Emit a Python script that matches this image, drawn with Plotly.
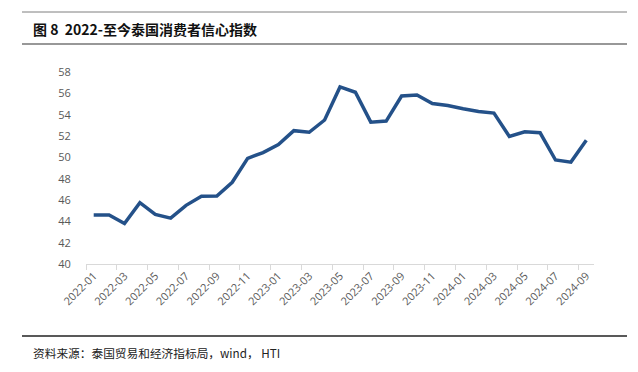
import plotly.graph_objects as go

months = ["2022-01","2022-02","2022-03","2022-04","2022-05","2022-06","2022-07","2022-08","2022-09","2022-10","2022-11","2022-12",
          "2023-01","2023-02","2023-03","2023-04","2023-05","2023-06","2023-07","2023-08","2023-09","2023-10","2023-11","2023-12",
          "2024-01","2024-02","2024-03","2024-04","2024-05","2024-06","2024-07","2024-08","2024-09"]
cci = [44.6, 44.6, 43.8, 45.75, 44.65, 44.3, 45.5, 46.35, 46.37, 47.66, 49.9, 50.45,
       51.2, 52.5, 52.35, 53.5, 56.6, 56.1, 53.3, 53.4, 55.75, 55.85, 55.05, 54.85,
       54.55, 54.3, 54.15, 51.95, 52.4, 52.3, 49.75, 49.55, 51.6]
y_ticks = [40, 42, 44, 46, 48, 50, 52, 54, 56, 58]

title_text = "<b>图\u00a08\u00a0\u00a02022-至今泰国消费者信心指数</b>"
source_text = "资料来源：泰国贸易和经济指标局，wind，\u00a0HTI"

W, H = 638, 372
L, R, T, B = 86, 594, 72, 264

def px_x(p):
    return (p - L) / (R - L)

def px_y(p):
    return (B - p) / (B - T)

xs = list(range(len(months)))
label_idx = xs[::2]

fig = go.Figure()
fig.add_trace(go.Scatter(x=xs, y=cci, mode="lines",
                         line=dict(color="#245189", width=3.5),
                         hoverinfo="skip", showlegend=False))

fig.update_layout(
    width=W, height=H,
    margin=dict(l=L, r=W - R, t=T, b=H - B, pad=0, autoexpand=False),
    paper_bgcolor="white", plot_bgcolor="white",
    showlegend=False,
    font=dict(family="Open Sans, Noto Sans CJK SC", size=11, color="#595959"),
)
fig.update_xaxes(
    automargin=False,
    range=[-0.5, len(months) - 0.5],
    tickmode="array", tickvals=label_idx, ticktext=[months[i] for i in label_idx],
    tickangle=-45, ticks="", showgrid=False, zeroline=False,
    showline=True, linecolor="#d9d9d9", linewidth=1.3,
    tickfont=dict(family="Open Sans", size=11, color="#595959"),
    minor=dict(tick0=-0.5, dtick=2, ticks="outside", ticklen=5, tickcolor="#d9d9d9", tickwidth=1, showgrid=False),
)
fig.update_yaxes(
    automargin=False,
    range=[40, 58], tickmode="array", tickvals=y_ticks,
    showgrid=False, zeroline=False, showline=False,
    ticks="outside", ticklen=12, tickcolor="rgba(0,0,0,0)",
    tickfont=dict(family="Open Sans", size=11, color="#595959"),
)

shapes = [
    dict(type="line", xref="paper", yref="paper", x0=px_x(22), x1=px_x(627), y0=px_y(12), y1=px_y(12),
         line=dict(color="#7f7f7f", width=1)),
    dict(type="line", xref="paper", yref="paper", x0=px_x(22), x1=px_x(627), y0=px_y(44), y1=px_y(44),
         line=dict(color="#333333", width=1.2)),
    dict(type="line", xref="paper", yref="paper", x0=px_x(22), x1=px_x(627), y0=px_y(336), y1=px_y(336),
         line=dict(color="#222222", width=1.5)),
]
fig.update_layout(shapes=shapes)

fig.add_annotation(text=title_text, xref="paper", yref="paper", x=px_x(31), y=px_y(29),
                   xanchor="left", yanchor="middle", showarrow=False,
                   font=dict(family="Noto Sans CJK SC", size=14, color="#111111"))
fig.add_annotation(text=source_text, xref="paper", yref="paper", x=px_x(31), y=px_y(352),
                   xanchor="left", yanchor="middle", showarrow=False,
                   font=dict(family="Noto Sans CJK SC", size=11.7, color="#222222"))

fig.write_html("out.html", config={"displayModeBar": False},
               post_script="document.body.style.margin='0';document.body.style.padding='0';document.body.style.overflow='hidden';")
